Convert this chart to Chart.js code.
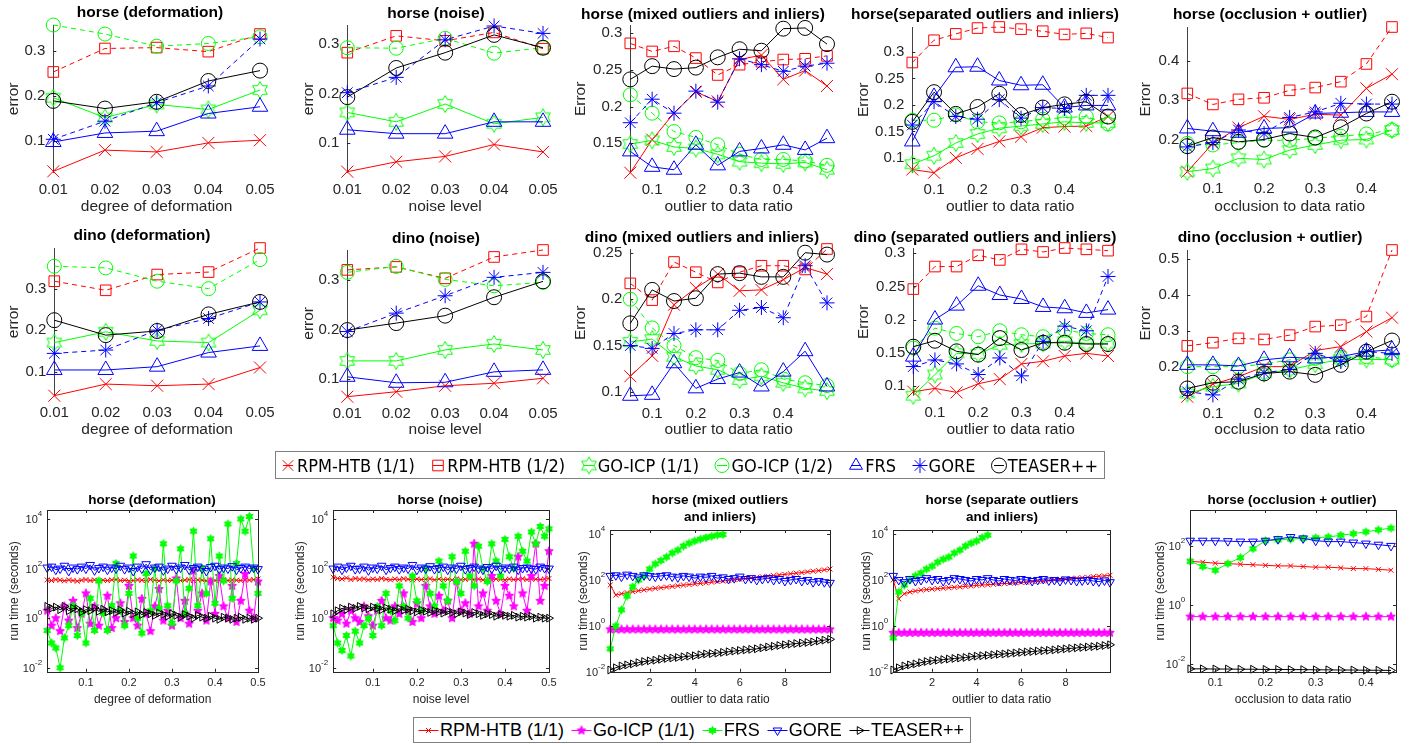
<!DOCTYPE html>
<html>
<head>
<meta charset="utf-8">
<script src="https://cdn.jsdelivr.net/npm/chart.js@4"></script>
<style>
  body { margin: 0; background: #fff; width: 1416px; height: 744px; overflow: hidden; position: relative; font-family: "Liberation Sans", Arial, sans-serif; }
  canvas { position: absolute; }
  .ttl { position: absolute; font-weight: bold; transform: translate(-50%, -50%); white-space: nowrap; color: #000; text-align: center; line-height: 1.25; }
  .lg { position: absolute; border: 1px solid #7f7f7f; background: #fff; display: flex; align-items: center; justify-content: space-between; box-sizing: border-box; color: #000; white-space: nowrap; }
  .lg span.it { display: flex; align-items: center; }
  .lg canvas { position: static; }
</style>
</head>
<body>
<script>
// ---- categories / x values ----
const xDeform = [0.01, 0.02, 0.03, 0.04, 0.05];
const xNoise = [0.01, 0.02, 0.03, 0.04, 0.05];
const xOutlier = [0.05, 0.1, 0.15, 0.2, 0.25, 0.3, 0.35, 0.4, 0.45, 0.5];
const xOcclusion = [0.05, 0.1, 0.15, 0.2, 0.25, 0.3, 0.35, 0.4, 0.45];

const errMethods = ['RPM-HTB (1/1)', 'RPM-HTB (1/2)', 'GO-ICP (1/1)', 'GO-ICP (1/2)', 'FRS', 'GORE', 'TEASER++'];
const runMethods = ['RPM-HTB (1/1)', 'Go-ICP (1/1)', 'FRS', 'GORE', 'TEASER++'];

// ---- error values, one row per method (errMethods order) ----
const horseDeformErr = [
  [0.033, 0.080, 0.076, 0.096, 0.102],
  [0.253, 0.305, 0.307, 0.298, 0.337],
  [0.196, 0.152, 0.181, 0.170, 0.213],
  [0.357, 0.337, 0.310, 0.316, 0.331],
  [0.098, 0.118, 0.122, 0.161, 0.176],
  [0.104, 0.144, 0.185, 0.222, 0.326],
  [0.189, 0.172, 0.187, 0.233, 0.256]
];
const horseNoiseErr = [
  [0.042, 0.062, 0.073, 0.097, 0.082],
  [0.283, 0.317, 0.307, 0.324, 0.291],
  [0.162, 0.143, 0.179, 0.139, 0.152],
  [0.293, 0.292, 0.312, 0.282, 0.293],
  [0.127, 0.119, 0.119, 0.143, 0.143],
  [0.202, 0.233, 0.309, 0.337, 0.322],
  [0.193, 0.252, 0.283, 0.319, 0.293]
];
const horseMixedErr = [
  [0.110, 0.155, 0.191, 0.220, 0.207, 0.264, 0.270, 0.237, 0.249, 0.228],
  [0.286, 0.275, 0.282, 0.266, 0.243, 0.257, 0.261, 0.264, 0.265, 0.269],
  [0.149, 0.154, 0.145, 0.143, 0.135, 0.125, 0.123, 0.122, 0.124, 0.114],
  [0.216, 0.191, 0.166, 0.158, 0.148, 0.135, 0.128, 0.128, 0.126, 0.120],
  [0.139, 0.118, 0.114, 0.148, 0.120, 0.139, 0.143, 0.148, 0.141, 0.157],
  [0.178, 0.210, 0.191, 0.221, 0.206, 0.265, 0.257, 0.248, 0.255, 0.259],
  [0.237, 0.255, 0.251, 0.253, 0.267, 0.278, 0.276, 0.306, 0.307, 0.285]
];
const horseSepErr = [
  [0.078, 0.072, 0.100, 0.117, 0.131, 0.140, 0.157, 0.159, 0.160, 0.178],
  [0.280, 0.322, 0.334, 0.345, 0.347, 0.343, 0.339, 0.333, 0.335, 0.327],
  [0.088, 0.104, 0.128, 0.145, 0.156, 0.160, 0.164, 0.168, 0.166, 0.166],
  [0.171, 0.171, 0.181, 0.168, 0.166, 0.168, 0.173, 0.176, 0.178, 0.164],
  [0.131, 0.215, 0.271, 0.272, 0.246, 0.237, 0.238, 0.195, 0.199, 0.199],
  [0.162, 0.206, 0.178, 0.173, 0.210, 0.175, 0.195, 0.193, 0.218, 0.218],
  [0.168, 0.224, 0.183, 0.196, 0.221, 0.181, 0.195, 0.201, 0.206, 0.178]
];
const horseOcclErr = [
  [0.118, 0.190, 0.230, 0.259, 0.251, 0.264, 0.262, 0.330, 0.366],
  [0.317, 0.289, 0.302, 0.306, 0.325, 0.332, 0.347, 0.392, 0.486],
  [0.118, 0.126, 0.152, 0.149, 0.173, 0.186, 0.198, 0.200, 0.224],
  [0.190, 0.186, 0.192, 0.198, 0.198, 0.203, 0.208, 0.214, 0.224],
  [0.228, 0.221, 0.217, 0.228, 0.230, 0.266, 0.268, 0.270, 0.270],
  [0.181, 0.192, 0.224, 0.215, 0.256, 0.270, 0.292, 0.290, 0.290],
  [0.183, 0.205, 0.194, 0.200, 0.215, 0.205, 0.231, 0.266, 0.296]
];
const dinoDeformErr = [
  [0.042, 0.070, 0.066, 0.070, 0.110],
  [0.318, 0.296, 0.334, 0.340, 0.398],
  [0.170, 0.196, 0.174, 0.170, 0.248],
  [0.354, 0.350, 0.318, 0.300, 0.370],
  [0.104, 0.104, 0.112, 0.146, 0.162],
  [0.144, 0.152, 0.200, 0.228, 0.268],
  [0.224, 0.188, 0.198, 0.238, 0.268]
];
const dinoNoiseErr = [
  [0.065, 0.075, 0.087, 0.092, 0.102],
  [0.320, 0.326, 0.303, 0.346, 0.360],
  [0.137, 0.137, 0.159, 0.171, 0.159],
  [0.315, 0.327, 0.301, 0.288, 0.295],
  [0.105, 0.093, 0.094, 0.115, 0.119],
  [0.196, 0.233, 0.268, 0.305, 0.315],
  [0.199, 0.213, 0.228, 0.265, 0.297]
];
const dinoMixedErr = [
  [0.117, 0.139, 0.194, 0.212, 0.227, 0.209, 0.210, 0.221, 0.234, 0.227],
  [0.217, 0.199, 0.240, 0.229, 0.218, 0.229, 0.236, 0.236, 0.232, 0.254],
  [0.154, 0.157, 0.138, 0.128, 0.124, 0.113, 0.117, 0.110, 0.104, 0.101],
  [0.200, 0.169, 0.150, 0.137, 0.134, 0.120, 0.124, 0.114, 0.110, 0.107],
  [0.096, 0.097, 0.131, 0.104, 0.114, 0.121, 0.106, 0.122, 0.144, 0.106],
  [0.150, 0.147, 0.163, 0.167, 0.167, 0.188, 0.191, 0.180, 0.236, 0.196],
  [0.174, 0.210, 0.198, 0.201, 0.227, 0.228, 0.224, 0.224, 0.250, 0.248]
];
const dinoSepErr = [
  [0.091, 0.096, 0.090, 0.103, 0.110, 0.133, 0.137, 0.145, 0.149, 0.145],
  [0.246, 0.280, 0.280, 0.297, 0.290, 0.306, 0.302, 0.308, 0.306, 0.304],
  [0.085, 0.117, 0.149, 0.148, 0.162, 0.163, 0.164, 0.167, 0.164, 0.164],
  [0.157, 0.187, 0.179, 0.174, 0.183, 0.177, 0.174, 0.184, 0.179, 0.177],
  [0.144, 0.200, 0.221, 0.251, 0.237, 0.231, 0.219, 0.217, 0.210, 0.215],
  [0.129, 0.139, 0.133, 0.117, 0.142, 0.115, 0.167, 0.190, 0.183, 0.265],
  [0.159, 0.168, 0.152, 0.147, 0.172, 0.154, 0.165, 0.165, 0.163, 0.163]
];
const dinoOcclErr = [
  [0.116, 0.151, 0.172, 0.200, 0.200, 0.245, 0.256, 0.298, 0.337],
  [0.258, 0.267, 0.279, 0.276, 0.288, 0.312, 0.316, 0.340, 0.526],
  [0.125, 0.144, 0.153, 0.181, 0.191, 0.207, 0.220, 0.220, 0.220],
  [0.200, 0.200, 0.200, 0.207, 0.219, 0.223, 0.226, 0.228, 0.220],
  [0.205, 0.205, 0.202, 0.219, 0.226, 0.223, 0.228, 0.242, 0.247],
  [0.130, 0.121, 0.165, 0.183, 0.192, 0.237, 0.214, 0.242, 0.237],
  [0.139, 0.155, 0.158, 0.181, 0.186, 0.177, 0.205, 0.242, 0.273]
];

// ---- run time (seconds), one row per method (runMethods order) ----
const xDeformRun = [0.01,0.02,0.03,0.04,0.05,0.06,0.07,0.08,0.09,0.10,0.11,0.12,0.13,0.14,0.15,0.16,0.17,0.18,0.19,0.20,
  0.21,0.22,0.23,0.24,0.25,0.26,0.27,0.28,0.29,0.30,0.31,0.32,0.33,0.34,0.35,0.36,0.37,0.38,0.39,0.40,
  0.41,0.42,0.43,0.44,0.45,0.46,0.47,0.48,0.49,0.50];
const horseDeformRun = [
  [35,33,36,34,32,35,33,31,34,36,33,35,32,34,33,35,36,33,34,32,33,35,34,33,36,34,32,35,33,34,35,33,34,36,33,35,34,32,35,33,34,36,33,35,34,33,35,34,36,38],
  [2,0.5,1,0.3,3,0.8,5,0.4,1.5,10,0.6,3,0.5,2,8,0.4,1,4,0.7,20,1,0.5,6,1.5,0.3,3,15,0.8,2,0.5,40,1,5,0.6,80,2,10,0.8,30,1.5,50,3,1,20,0.7,5,60,2,1,30],
  [0.32,0.1,0.063,0.01,0.16,0.5,3.2,0.2,1.6,0.1,6.3,0.32,32,1.6,0.32,3.2,160,2,0.5,10,320,1,0.25,63,2,100,2.5,1000,3.2,0.63,32,630,1.6,16,3200,3.2,100,10,1600,4,320,32,6300,6.3,160,10000,3200,12600,100,10],
  [110,120,90,100,130,80,110,95,120,100,140,85,105,120,90,110,100,130,95,110,80,120,100,150,90,110,120,85,100,130,95,110,140,90,105,120,100,80,115,130,95,110,100,125,90,105,120,100,110,95],
  [3,2.5,2.8,2.2,3,2,2.5,2.4,1.8,2.2,2,2.6,1.9,2.3,1.8,2,1.7,2.1,1.6,1.9,1.5,1.8,1.4,1.7,1.5,1.3,1.6,1.4,1.2,1.5,1.3,1.1,1.4,1.2,1.0,1.3,1.1,1.0,1.2,1.0,0.9,1.1,1.0,0.9,1.0,1.1,0.9,1.0,0.9,1.0]
];
const horseNoiseRun = [
  [45,40,38,42,36,40,37,39,35,38,36,40,37,35,38,36,39,37,35,38,36,37,39,35,38,36,37,35,38,36,37,39,36,38,35,37,36,38,37,35,38,36,37,39,36,38,37,36,38,40],
  [1,0.8,1.5,0.6,2,1,0.7,3,1.2,0.5,2,5,1,0.8,3,1.5,10,2,0.7,4,1,20,3,1.5,8,2,5,1,30,2,4,1.5,1000,3,10,2,50,5,1.5,20,8,3,300,10,2,50,1000,5,20,500],
  [0.5,0.1,0.05,0.2,0.03,0.3,0.1,0.5,1,0.2,3,0.5,10,2,0.8,20,3,1,50,5,2,100,10,3,200,20,5,300,30,10,500,50,20,800,100,30,1000,200,50,1500,300,100,2000,500,200,3000,1000,5000,2000,4000],
  [100,120,90,110,130,95,100,120,85,110,100,130,90,105,120,95,110,100,140,90,110,100,125,95,105,120,90,110,100,130,95,105,120,100,90,115,100,130,95,110,100,120,90,105,110,100,95,120,105,100],
  [1.5,2,2.5,2.2,2.8,2.5,3,2.6,2.4,2.8,2.5,2.2,2.6,2.3,2,2.4,2.1,2.3,2,1.8,2.1,1.9,1.7,2,1.8,1.6,1.9,1.7,1.5,1.8,1.6,1.4,1.7,1.5,1.3,1.5,1.4,1.2,1.4,1.3,1.2,1.3,1.1,1.2,1.1,1.2,1.0,1.1,1.0,1.0]
];
const xOutlierRun = [0.25,0.5,0.75,1,1.25,1.5,1.75,2,2.25,2.5,2.75,3,3.25,3.5,3.75,4,4.25,4.5,4.75,5,
  5.25,5.5,5.75,6,6.25,6.5,6.75,7,7.25,7.5,7.75,8,8.25,8.5,8.75,9,9.25,9.5,9.75,10];
const horseMixedRun = [
  [60,22,25,28,31,34,37,40,43,46,49,52,56,60,63,67,71,75,80,85,90,96,102,108,115,122,130,138,146,155,165,175,186,198,210,225,240,255,275,300],
  [0.7,0.7,0.7,0.7,0.7,0.7,0.7,0.7,0.7,0.7,0.7,0.7,0.7,0.7,0.7,0.7,0.7,0.7,0.7,0.7,0.7,0.7,0.7,0.7,0.7,0.7,0.7,0.7,0.7,0.7,0.7,0.7,0.7,0.7,0.7,0.7,0.7,0.7,0.7,0.7],
  [0.1,1,5,20,50,100,150,300,500,700,1000,1500,2000,3000,4000,5000,6000,7000,8000,9000,9500,null,null,null,null,null,null,null,null,null,null,null,null,null,null,null,null,null,null,null],
  [150,160,140,170,150,130,160,150,140,150,160,140,130,150,140,120,140,130,150,120,130,110,120,140,110,120,100,110,120,100,110,90,100,110,90,100,80,90,80,75],
  [0.012,0.015,0.018,0.02,0.022,0.025,0.028,0.03,0.032,0.035,0.038,0.04,0.042,0.045,0.048,0.05,0.055,0.06,0.062,0.065,0.07,0.075,0.08,0.085,0.09,0.095,0.1,0.11,0.12,0.13,0.14,0.15,0.16,0.17,0.18,0.19,0.2,0.22,0.24,0.26]
];
const horseSepRun = [
  [100,15,25,30,33,36,38,40,42,44,46,48,50,53,55,58,60,62,65,68,70,72,75,78,80,85,88,90,95,100,105,110,115,120,125,130,140,145,150,160],
  [0.5,0.5,0.5,0.5,0.5,0.5,0.5,0.5,0.5,0.5,0.5,0.5,0.5,0.5,0.5,0.5,0.5,0.5,0.5,0.5,0.5,0.5,0.5,0.5,0.5,0.5,0.5,0.5,0.5,0.5,0.5,0.5,0.5,0.5,0.5,0.5,0.5,0.5,0.5,0.5],
  [0.3,30,60,100,150,200,300,400,600,800,1000,1500,2000,3000,4000,5000,7000,9000,null,null,null,null,null,null,null,null,null,null,null,null,null,null,null,null,null,null,null,null,null,null],
  [150,100,80,110,90,100,120,100,110,90,100,120,110,100,90,110,100,120,100,90,110,100,95,110,100,90,100,110,95,100,90,105,100,90,95,100,90,85,95,80],
  [0.012,0.015,0.018,0.02,0.022,0.025,0.028,0.03,0.032,0.034,0.036,0.038,0.04,0.042,0.045,0.048,0.05,0.052,0.055,0.058,0.06,0.063,0.066,0.07,0.073,0.076,0.08,0.083,0.086,0.09,0.095,0.1,0.105,0.11,0.115,0.12,0.125,0.13,0.14,0.15]
];
const xOcclusionRun = [0.05,0.075,0.1,0.125,0.15,0.175,0.2,0.225,0.25,0.275,0.3,0.325,0.35,0.375,0.4,0.425,0.45];
const horseOcclRun = [
  [30,28,26,25,24,23,22,21,21,20,19,19,18,17,17,16,15],
  [0.4,0.4,0.4,0.4,0.4,0.4,0.4,0.4,0.4,0.4,0.4,0.4,0.4,0.4,0.4,0.4,0.4],
  [30,20,15,25,40,80,150,160,170,180,190,200,230,260,300,350,400],
  [150,150,150,145,140,140,150,170,200,180,150,140,140,130,120,110,100],
  [0.0068,0.0068,0.0067,0.0067,0.0066,0.0066,0.0065,0.0065,0.0064,0.0064,0.0063,0.0063,0.0062,0.0062,0.0061,0.0061,0.006]
];

const errTicksY = {
  a: [0.1, 0.2, 0.3], b: [0.15, 0.2, 0.25, 0.3], c: [0.1, 0.15, 0.2, 0.25, 0.3], d: [0.2, 0.3, 0.4], e: [0.1, 0.15, 0.2, 0.25], f: [0.2, 0.3, 0.4, 0.5]
};
const deformTicks = [0.01, 0.02, 0.03, 0.04, 0.05];
const ratioTicks = [0.1, 0.2, 0.3, 0.4];
const runDeformTicks = [0.1, 0.2, 0.3, 0.4, 0.5];
const runOutlierTicks = [2, 4, 6, 8];
const logTicks = [0.01, 1, 100, 10000];

// ---- marker images ----
function starImg(R, n, inner, color, fill) {
  const s = Math.ceil(2 * R + 3);
  const c = document.createElement('canvas');
  c.width = c.height = s;
  const g = c.getContext('2d');
  g.beginPath();
  for (let i = 0; i < 2 * n; i++) {
    const a = -Math.PI / 2 + i * Math.PI / n;
    const rr = i % 2 ? R * inner : R;
    g.lineTo(s / 2 + rr * Math.cos(a), s / 2 + rr * Math.sin(a));
  }
  g.closePath();
  if (fill) { g.fillStyle = color; g.fill(); }
  g.strokeStyle = color; g.lineWidth = 1; g.stroke();
  return c;
}

const errStyles = [
  { color: '#ff0000', dash: [], style: 'crossRot', r: 8.5 },
  { color: '#ff0000', dash: [5, 4], style: 'rect', r: 7.5 },
  { color: '#00ff00', dash: [], style: starImg(8.5, 6, 0.577, '#00ff00', false), r: 8 },
  { color: '#00ff00', dash: [5, 4], style: 'circle', r: 7 },
  { color: '#0000ff', dash: [], style: 'triangle', r: 9 },
  { color: '#0000ff', dash: [5, 4], style: 'star', r: 7.5 },
  { color: '#000000', dash: [], style: 'circle', r: 7.5 }
];
const runStyles = [
  { color: '#ff0000', dash: [], style: 'crossRot', r: 3.5 },
  { color: '#ff00ff', dash: [], style: starImg(4.5, 5, 0.45, '#ff00ff', true), r: 4 },
  { color: '#00ff00', dash: [], style: starImg(4, 6, 0.577, '#00ff00', true), r: 4 },
  { color: '#0000ff', dash: [], style: 'triangle', r: 5, rot: 180 },
  { color: '#000000', dash: [], style: 'triangle', r: 4.5, rot: 90 }
];

const fmt = v => String(+v.toFixed(3));

// draws tick marks, optional box, and 10^n labels for log axes
const axisDeco = {
  id: 'axisDeco',
  afterDraw(chart, args, o) {
    const ctx = chart.ctx, a = chart.chartArea;
    ctx.save();
    ctx.strokeStyle = '#262626';
    ctx.lineWidth = 1;
    if (o.box) ctx.strokeRect(Math.round(a.left) + 0.5, Math.round(a.top) + 0.5, Math.round(a.right - a.left), Math.round(a.bottom - a.top));
    const ys = chart.scales.y, xs = chart.scales.x;
    ctx.beginPath();
    ys.ticks.forEach(t => {
      const p = Math.round(ys.getPixelForValue(t.value)) + 0.5;
      ctx.moveTo(a.left, p); ctx.lineTo(a.left + 3, p);
      if (o.box) { ctx.moveTo(a.right, p); ctx.lineTo(a.right - 3, p); }
    });
    if (o.box) xs.ticks.forEach(t => {
      const p = Math.round(xs.getPixelForValue(t.value)) + 0.5;
      ctx.moveTo(p, a.bottom); ctx.lineTo(p, a.bottom - 3);
      ctx.moveTo(p, a.top); ctx.lineTo(p, a.top + 3);
    });
    ctx.stroke();
    if (o.log) {
      ctx.fillStyle = '#262626';
      ctx.textBaseline = 'middle';
      ys.ticks.forEach(t => {
        const p = ys.getPixelForValue(t.value);
        const e = String(Math.round(Math.log10(t.value)));
        ctx.font = '8px "Liberation Sans", Arial, sans-serif';
        const we = ctx.measureText(e).width;
        ctx.textAlign = 'right';
        ctx.fillText(e, a.left - 5, p - 5);
        ctx.font = '11px "Liberation Sans", Arial, sans-serif';
        ctx.fillText('10', a.left - 5 - we, p + 1);
      });
    }
    ctx.restore();
  }
};

function makeChart(o) {
  const fs = o.fs, lfs = o.lfs, lh = lfs * 1.2;
  const PT = 22, PR = 26;
  const cl = o.ylabelX - lh / 2;
  const L = o.x0 - cl;
  const ct = o.y0 - PT;
  const cb = o.xlabelY + lh / 2;
  const B = cb - o.y1;
  const W = Math.round(o.x1 + PR - cl), H = Math.round(cb - ct);
  const cv = document.createElement('canvas');
  cv.width = W; cv.height = H;
  cv.style.left = cl + 'px'; cv.style.top = ct + 'px';
  document.body.appendChild(cv);
  const n = o.series.length;
  const datasets = o.series.map((ys, i) => {
    const st = o.styles[i];
    return {
      label: o.methods[i],
      data: o.xs.map((x, j) => ({ x: x, y: ys[j] })),
      borderColor: st.color,
      backgroundColor: 'rgba(0,0,0,0)',
      borderWidth: 1,
      borderDash: st.dash,
      pointStyle: st.style,
      pointRadius: st.r,
      pointRotation: st.rot || 0,
      pointBorderColor: st.color,
      pointBackgroundColor: 'rgba(0,0,0,0)',
      pointBorderWidth: 1,
      tension: 0,
      clip: false,
      spanGaps: false,
      order: n - 1 - i
    };
  });
  const font = { family: '"Liberation Sans", Arial, sans-serif', size: fs };
  const lfont = { family: '"Liberation Sans", Arial, sans-serif', size: lfs, lineHeight: 1.2 };
  const inRange = v => v >= o.ymin && v <= o.ymax;
  new Chart(cv, {
    type: 'line',
    data: { datasets },
    options: {
      responsive: false,
      animation: false,
      events: [],
      layout: { padding: { top: PT, right: PR, left: 0, bottom: 0 } },
      plugins: { legend: { display: false }, tooltip: { enabled: false }, axisDeco: { box: o.box, log: o.log } },
      scales: {
        x: {
          type: 'linear', min: o.xmin, max: o.xmax,
          afterFit: s => { s.height = B; },
          afterBuildTicks: s => { s.ticks = o.xticks.map(v => ({ value: v })); },
          ticks: { font, color: '#262626', padding: o.xpad, autoSkip: false, maxRotation: 0, callback: v => fmt(v) },
          grid: { display: false, drawTicks: false },
          border: { display: false },
          title: { display: true, text: o.xlabel, font: lfont, color: '#262626', padding: 0 }
        },
        y: {
          type: o.log ? 'logarithmic' : 'linear', min: o.ymin, max: o.ymax,
          afterFit: s => { s.width = L; },
          afterBuildTicks: s => { s.ticks = o.yticks.filter(inRange).map(v => ({ value: v })); },
          ticks: { font, color: '#262626', padding: 8, autoSkip: false, callback: v => o.log ? '' : fmt(v) },
          grid: { display: false, drawTicks: false },
          border: { display: !o.box, color: '#444', width: 1 },
          title: { display: true, text: o.ylabel, font: lfont, color: '#262626', padding: 0 }
        }
      }
    },
    plugins: [axisDeco]
  });
  for (const t of o.title) {
    const d = document.createElement('div');
    d.className = 'ttl';
    d.style.left = t.x + 'px'; d.style.top = t.y + 'px';
    d.style.fontSize = o.tfs + 'px';
    d.innerHTML = t.text;
    document.body.appendChild(d);
  }
}

function errChart(p) {
  makeChart(Object.assign({ fs: 15, lfs: 15.5, tfs: 15.5, xpad: 8, box: false, log: false, methods: errMethods, styles: errStyles }, p));
}
function runChart(p) {
  makeChart(Object.assign({ fs: 11, lfs: 12, tfs: 13.5, xpad: 5, box: true, log: true, methods: runMethods, styles: runStyles, yticks: logTicks, ylabel: 'run time (seconds)' }, p));
}

// ---- row 1 ----
errChart({ xs: xDeform, series: horseDeformErr, x0: 53, x1: 260, y0: 25, y1: 173, xmin: 0.01, xmax: 0.05, ymin: 0.03, ymax: 0.357, xticks: deformTicks, yticks: errTicksY.a, ylabel: 'error', ylabelX: 13, xlabel: 'degree of deformation', xlabelY: 207, title: [{ text: 'horse (deformation)', x: 150, y: 12 }] });
errChart({ xs: xNoise, series: horseNoiseErr, x0: 347, x1: 543, y0: 25, y1: 173, xmin: 0.01, xmax: 0.05, ymin: 0.04, ymax: 0.339, xticks: deformTicks, yticks: errTicksY.a, ylabel: 'error', ylabelX: 308, xlabel: 'noise level', xlabelY: 207, title: [{ text: 'horse (noise)', x: 436, y: 13 }] });
errChart({ xs: xOutlier, series: horseMixedErr, x0: 630, x1: 827, y0: 25, y1: 173, xmin: 0.05, xmax: 0.5, ymin: 0.110, ymax: 0.311, xticks: ratioTicks, yticks: errTicksY.b, ylabel: 'Error', ylabelX: 580, xlabel: 'outlier to data ratio', xlabelY: 207, title: [{ text: 'horse (mixed outliers and inliers)', x: 703, y: 14 }] });
errChart({ xs: xOutlier, series: horseSepErr, x0: 912, x1: 1108, y0: 27, y1: 173, xmin: 0.05, xmax: 0.5, ymin: 0.072, ymax: 0.347, xticks: ratioTicks, yticks: errTicksY.c, ylabel: 'Error', ylabelX: 863, xlabel: 'outlier to data ratio', xlabelY: 207, title: [{ text: 'horse(separated outliers and inliers)', x: 985, y: 14 }] });
errChart({ xs: xOcclusion, series: horseOcclErr, x0: 1187, x1: 1392, y0: 27, y1: 172, xmin: 0.05, xmax: 0.45, ymin: 0.118, ymax: 0.486, xticks: ratioTicks, yticks: errTicksY.d, ylabel: 'Error', ylabelX: 1145, xlabel: 'occlusion to data ratio', xlabelY: 207, title: [{ text: 'horse (occlusion + outlier)', x: 1270, y: 14 }] });

// ---- row 2 ----
errChart({ xs: xDeform, series: dinoDeformErr, x0: 54, x1: 260, y0: 248, y1: 396, xmin: 0.01, xmax: 0.05, ymin: 0.042, ymax: 0.398, xticks: deformTicks, yticks: errTicksY.a, ylabel: 'error', ylabelX: 13, xlabel: 'degree of deformation', xlabelY: 430, title: [{ text: 'dino (deformation)', x: 142, y: 235 }] });
errChart({ xs: xNoise, series: dinoNoiseErr, x0: 347, x1: 543, y0: 250, y1: 397, xmin: 0.01, xmax: 0.05, ymin: 0.065, ymax: 0.36, xticks: deformTicks, yticks: errTicksY.a, ylabel: 'error', ylabelX: 308, xlabel: 'noise level', xlabelY: 430, title: [{ text: 'dino (noise)', x: 436, y: 238 }] });
errChart({ xs: xOutlier, series: dinoMixedErr, x0: 630, x1: 827, y0: 249, y1: 397, xmin: 0.05, xmax: 0.5, ymin: 0.095, ymax: 0.254, xticks: ratioTicks, yticks: errTicksY.e, ylabel: 'Error', ylabelX: 580, xlabel: 'outlier to data ratio', xlabelY: 430, title: [{ text: 'dino (mixed outliers and inliers)', x: 702, y: 237 }] });
errChart({ xs: xOutlier, series: dinoSepErr, x0: 913, x1: 1108, y0: 248, y1: 396, xmin: 0.05, xmax: 0.5, ymin: 0.085, ymax: 0.308, xticks: ratioTicks, yticks: errTicksY.c, ylabel: 'Error', ylabelX: 863, xlabel: 'outlier to data ratio', xlabelY: 430, title: [{ text: 'dino (separated outliers and inliers)', x: 985, y: 237 }] });
errChart({ xs: xOcclusion, series: dinoOcclErr, x0: 1187, x1: 1392, y0: 250, y1: 397, xmin: 0.05, xmax: 0.45, ymin: 0.116, ymax: 0.526, xticks: ratioTicks, yticks: errTicksY.f, ylabel: 'Error', ylabelX: 1145, xlabel: 'occlusion to data ratio', xlabelY: 430, title: [{ text: 'dino (occlusion + outlier)', x: 1270, y: 237 }] });

// ---- row 3 (run time) ----
runChart({ xs: xDeformRun, series: horseDeformRun, x0: 47, x1: 258, y0: 510, y1: 672, xmin: 0.01, xmax: 0.5, ymin: 0.0069, ymax: 23000, xticks: runDeformTicks, ylabelX: 14, xlabel: 'degree of deformation', xlabelY: 700, title: [{ text: 'horse (deformation)', x: 152, y: 500 }] });
runChart({ xs: xDeformRun, series: horseNoiseRun, x0: 333, x1: 549, y0: 510, y1: 672, xmin: 0.01, xmax: 0.5, ymin: 0.0069, ymax: 23000, xticks: runDeformTicks, ylabelX: 300, xlabel: 'noise level', xlabelY: 700, title: [{ text: 'horse (noise)', x: 440, y: 500 }] });
runChart({ xs: xOutlierRun, series: horseMixedRun, x0: 610, x1: 830, y0: 530, y1: 672, xmin: 0.25, xmax: 10, ymin: 0.01, ymax: 15000, xticks: runOutlierTicks, ylabelX: 583, xlabel: 'outlier to data ratio', xlabelY: 700, title: [{ text: 'horse (mixed outliers<br>and inliers)', x: 720, y: 509 }] });
runChart({ xs: xOutlierRun, series: horseSepRun, x0: 893, x1: 1110, y0: 530, y1: 672, xmin: 0.25, xmax: 10, ymin: 0.01, ymax: 15000, xticks: runOutlierTicks, ylabelX: 866, xlabel: 'outlier to data ratio', xlabelY: 700, title: [{ text: 'horse (separate outliers<br>and inliers)', x: 1002, y: 509 }] });
runChart({ xs: xOcclusionRun, series: horseOcclRun, x0: 1190, x1: 1396, y0: 510, y1: 672, xmin: 0.05, xmax: 0.46, ymin: 0.0054, ymax: 1650, xticks: ratioTicks, ylabelX: 1160, xlabel: 'occlusion to data ratio', xlabelY: 700, title: [{ text: 'horse (occlusion + outlier)', x: 1292, y: 500 }] });

// ---- legends ----
function legend(box, methods, styles, font, seg, half) {
  const d = document.createElement('div');
  d.className = 'lg';
  Object.assign(d.style, { left: box.x + 'px', top: box.y + 'px', width: box.w + 'px', height: box.h + 'px', font: font, padding: '0 6px 0 3px' });
  methods.forEach((m, i) => {
    const st = styles[i];
    const it = document.createElement('span');
    it.className = 'it';
    const c = document.createElement('canvas');
    c.width = seg; c.height = 20;
    const g = c.getContext('2d');
    g.strokeStyle = st.color; g.fillStyle = 'rgba(0,0,0,0)'; g.lineWidth = 1;
    g.beginPath(); g.moveTo(seg / 2 - half, 10.5); g.lineTo(seg / 2 + half, 10.5); g.stroke();
    Chart.helpers.drawPoint(g, { pointStyle: st.style, radius: Math.min(st.r, 7.5), rotation: st.rot || 0, borderWidth: 1 }, seg / 2, 10.5);
    it.appendChild(c);
    const t = document.createElement('span');
    t.textContent = m;
    it.appendChild(t);
    d.appendChild(it);
  });
  document.body.appendChild(d);
}
legend({ x: 275, y: 451, w: 830, h: 28 }, errMethods, errStyles, '18px "DejaVu Sans Condensed", "DejaVu Sans", sans-serif', 18, 5);
legend({ x: 413, y: 717, w: 558, h: 26 }, runMethods, runStyles, '18px "Liberation Sans", Arial, sans-serif', 23, 10);
</script>
</body>
</html>
